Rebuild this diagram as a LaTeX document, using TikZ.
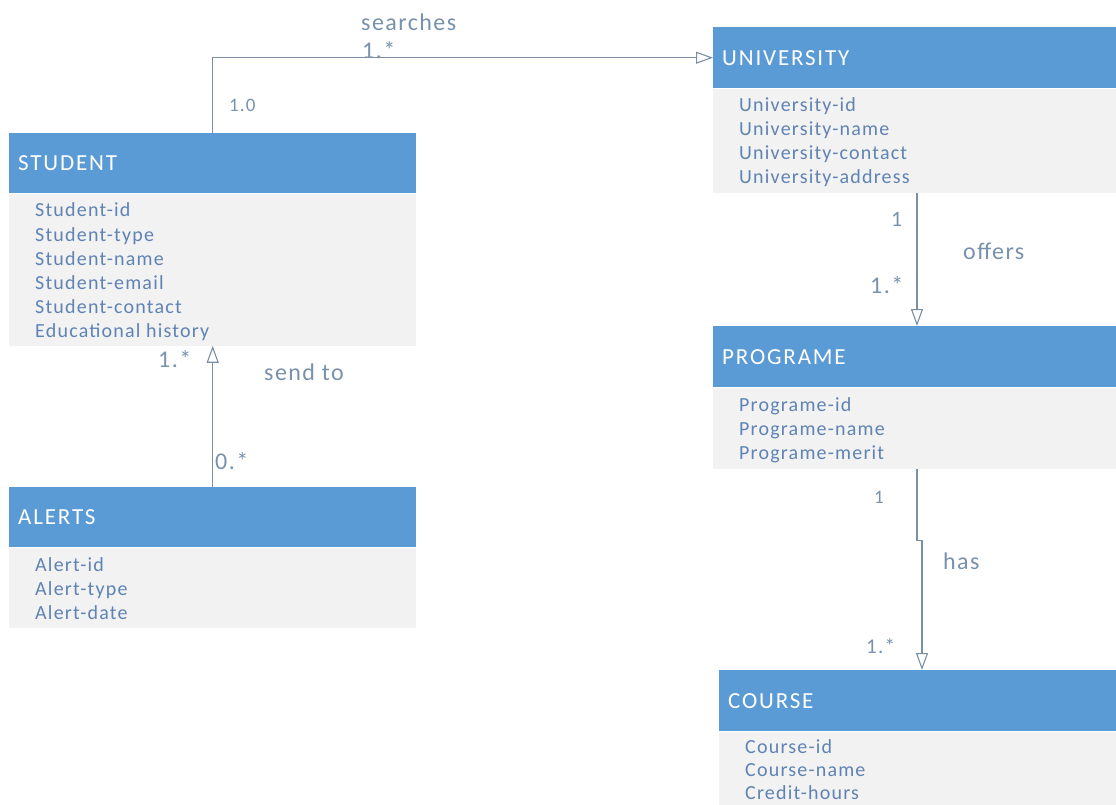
\documentclass[tikz,border=0pt]{standalone}
\usepackage{fontspec}
\setmainfont{Carlito}[LetterSpace=6]
\usetikzlibrary{arrows.meta}
\definecolor{hdrblue}{HTML}{5B9BD5}
\definecolor{bodygray}{HTML}{F2F2F2}
\definecolor{attrtext}{HTML}{5F83B3}
\definecolor{labeltext}{HTML}{7891AD}
\definecolor{linegray}{HTML}{7A8EA4}

\begin{document}
\begin{tikzpicture}[x=1pt,y=-1pt,
  hdr/.style={fill=hdrblue, text=white, anchor=north west, minimum height=60pt,
    inner xsep=9pt, inner ysep=0pt, align=left, text width=#1,
    font=\addfontfeature{LetterSpace=8}\fontsize{23}{26}\selectfont},
  body/.style={fill=bodygray, anchor=north west, inner sep=0pt, minimum width=#1},
  attr/.style={text=attrtext, anchor=base west, inner sep=0pt,
    font=\fontsize{20}{24}\selectfont},
  lbl/.style={text=labeltext, anchor=base west, inner sep=0pt,
    font=\fontsize{24}{28}\selectfont},
  smalllbl/.style={lbl, font=\fontsize{20}{24}\selectfont},
  assoc/.style={draw=linegray, line width=1.1pt,
    -{Triangle[open, length=17pt, width=12pt]}}
]
\useasboundingbox (0,0) rectangle (1116,805);
\clip (0,0) rectangle (1116,805);

% ---- STUDENT ----
\node[hdr=389pt] (stu) at (9,133) {STUDENT};
\node[body=407pt, minimum height=152pt] (stub) at (stu.south west) {};
\foreach \t [count=\i] in {Student-id, Student-type, Student-name,
    Student-email, Student-contact, Educational history}
  \node[attr] (stu-\i) at (35,193+24*\i) {\t};

% ---- ALERTS ----
\node[hdr=389pt] (alr) at (9,487) {ALERTS};
\node[body=407pt, minimum height=80pt] (alrb) at (alr.south west) {};
\foreach \t [count=\i] in {Alert-id, Alert-type, Alert-date}
  \node[attr] (alr-\i) at (35,547+24*\i) {\t};

% ---- UNIVERSITY ----
\node[hdr=402pt, minimum height=61pt] (uni) at (713,27) {UNIVERSITY};
\node[body=420pt, minimum height=104pt] (unib) at (uni.south west) {};
\foreach \t [count=\i] in {University-id, University-name,
    University-contact, University-address}
  \node[attr] (uni-\i) at (739,88+24*\i) {\t};

% ---- PROGRAME ----
\node[hdr=402pt, minimum height=61pt] (prg) at (713,326) {PROGRAME};
\node[body=420pt, minimum height=81pt] (prgb) at (prg.south west) {};
\foreach \t [count=\i] in {Programe-id, Programe-name, Programe-merit}
  \node[attr] (prg-\i) at (739,387+24*\i) {\t};

% ---- COURSE ----
\node[hdr=402pt, minimum height=61pt] (crs) at (719,670) {COURSE};
\node[body=420pt, minimum height=90pt] (crsb) at (crs.south west) {};
\foreach \t [count=\i] in {Course-id, Course-name, Credit-hours}
  \node[attr] (crs-\i) at (745,730+23*\i) {\t};

% ---- associations ----
\draw[assoc] (stu.north) |- (uni.west);
\draw[assoc] ([xshift=204pt]unib.south west) -- ([xshift=204pt]prg.north west);
\draw[assoc] ([xshift=204pt]prgb.south west) -- ++(0,72) -| ([xshift=203pt]crs.north west);
\draw[assoc] (alr.north) -- (stub.south -| alr.north);

% ---- association labels ----
\node[lbl] (l-search) at (361,31) {searches};
\node[lbl] (m-search) at (362,59) {1.*};
\node[smalllbl, font=\fontsize{19}{22}\selectfont] (m-stu) at (229,112) {1.0};
\node[lbl, font=\fontsize{22}{26}\selectfont] (m-uni) at (891,226) {1};
\node[lbl] (l-offers) at (963,259) {offers};
\node[lbl] (m-prg) at (870,293) {1.*};
\node[smalllbl, font=\fontsize{19}{22}\selectfont] (m-prg2) at (874,503) {1};
\node[lbl] (l-has) at (943,569) {has};
\node[smalllbl, font=\fontsize{21}{24}\selectfont] (m-crs) at (866,653) {1.*};
\node[lbl] (m-stu2) at (158,367) {1.*};
\node[lbl] (l-send) at (264,380) {send to};
\node[lbl] (m-alr) at (215,469) {0.*};
\end{tikzpicture}
\end{document}
